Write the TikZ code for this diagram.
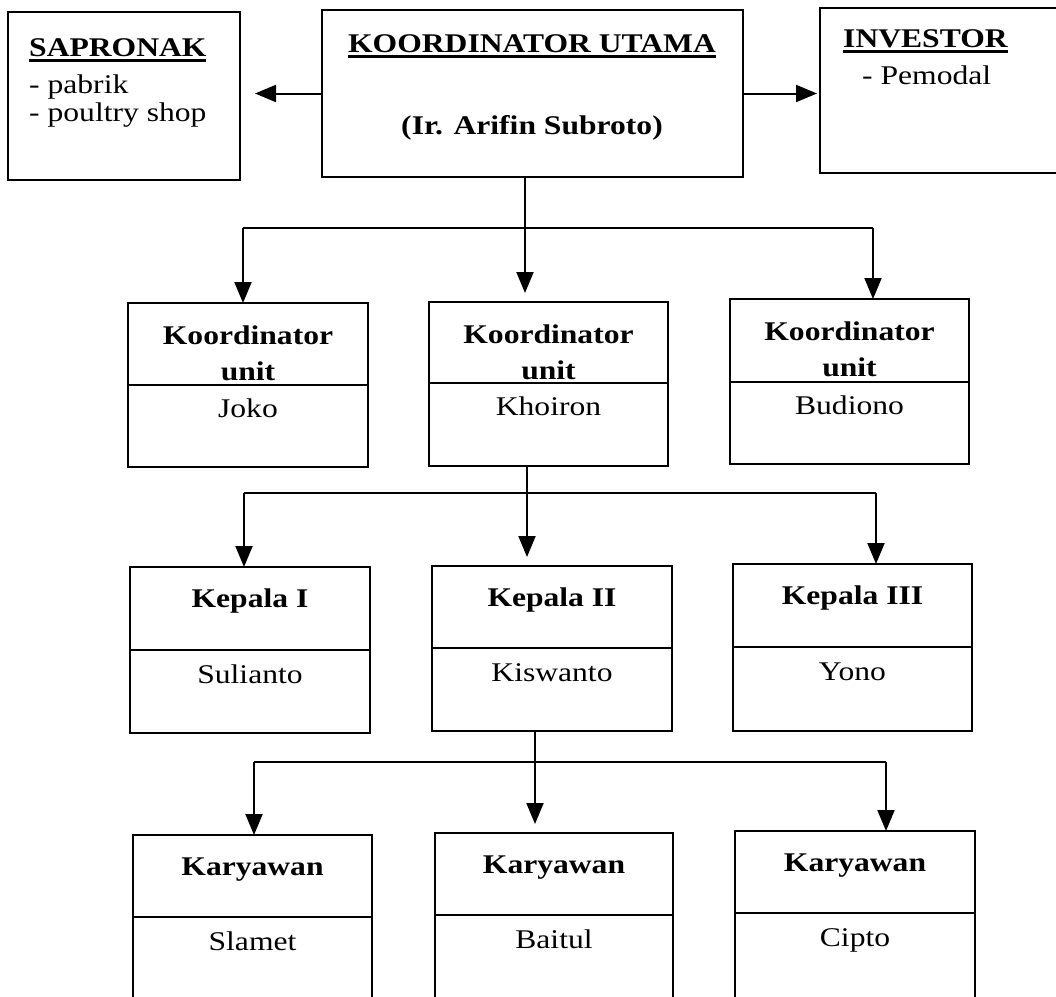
\documentclass[tikz,border=0pt]{standalone}
\usepackage{fontspec}
\setmainfont{Liberation Serif}[FakeStretch=1.17]
\usetikzlibrary{arrows.meta}
\newcommand\myul[1]{\setbox0\hbox{#1}\rlap{\rule[-6pt]{\wd0}{2.6pt}}\box0}
\newcommand\mycard[6]{%
  \node[frame, minimum width=#4pt, minimum height=#5pt] (#1h) at (#2,#3) {};
  \node[frame, minimum width=#4pt, minimum height=#6pt] (#1b) at (#1h.south west) {};
}
\begin{document}
\begin{tikzpicture}[x=1pt,y=-1pt,
  frame/.style={draw, line width=2.2pt, inner sep=0pt, outer sep=0pt, anchor=north west},
  rt/.style={inner sep=0pt, font=\fontsize{27pt}{31pt}\selectfont},
  bt/.style={inner sep=0pt, font=\fontsize{27pt}{31pt}\selectfont\bfseries},
  ln/.style={line width=2pt},
  arr/.style={line width=2pt, -{Triangle[length=21pt,width=17pt]}}]
\useasboundingbox (0,0) rectangle (1056,996);
\fill[white] (0,0) rectangle (1056,996);
\clip (0,0) rectangle (1056,996);

% top row
\node[frame, minimum width=232pt, minimum height=168pt] (sap) at (8,12) {};
\node[bt, anchor=base west] (sapt) at (29,56) {\myul{SAPRONAK}};
\node[rt, anchor=base west] (sap1) at (29,93) {- pabrik};
\node[rt, anchor=base west] (sap2) at (29,121) {- poultry shop};

\node[frame, minimum width=421pt, minimum height=167pt] (ku) at (322,10) {};
\node[bt, anchor=base] (kut) at (532,52) {\myul{KOORDINATOR UTAMA}};
\node[bt, anchor=base] (kun) at (532,134) {(Ir. Arifin Subroto)};

\node[frame, minimum width=260pt, minimum height=165pt] (inv) at (820,8) {};
\node[bt, anchor=base west] (invt) at (843,47) {\myul{INVESTOR}};
\node[rt, anchor=base west] (inv1) at (862,84) {- Pemodal};

% level 2
\mycard{k1}{128}{303}{240}{82}{82}
\mycard{k2}{429}{302}{239}{81}{83}
\mycard{k3}{730}{299}{239}{83}{82}
\node[bt, anchor=base] (k1t) at (248,344) {Koordinator};
\node[bt, anchor=base] (k1u) at (248,380) {unit};
\node[rt, anchor=base] (k1n) at (248,417) {Joko};
\node[bt, anchor=base] (k2t) at (548.5,343) {Koordinator};
\node[bt, anchor=base] (k2u) at (548.5,379) {unit};
\node[rt, anchor=base] (k2n) at (548.5,415) {Khoiron};
\node[bt, anchor=base] (k3t) at (849.5,340) {Koordinator};
\node[bt, anchor=base] (k3u) at (849.5,376) {unit};
\node[rt, anchor=base] (k3n) at (849.5,414) {Budiono};

% level 3
\mycard{p1}{130}{567}{240}{83}{83}
\mycard{p2}{432}{566}{240}{82}{83}
\mycard{p3}{733}{564}{239}{83}{84}
\node[bt, anchor=base] (p1t) at (250,607) {Kepala I};
\node[rt, anchor=base] (p1n) at (250,683) {Sulianto};
\node[bt, anchor=base] (p2t) at (552,606) {Kepala II};
\node[rt, anchor=base] (p2n) at (552,681) {Kiswanto};
\node[bt, anchor=base] (p3t) at (852.5,604) {Kepala III};
\node[rt, anchor=base] (p3n) at (852.5,680) {Yono};

% level 4
\mycard{c1}{133}{835}{239}{82}{120}
\mycard{c2}{435}{833}{238}{82}{120}
\mycard{c3}{735}{831}{240}{82}{120}
\node[bt, anchor=base] (c1t) at (252.5,875) {Karyawan};
\node[rt, anchor=base] (c1n) at (252.5,950) {Slamet};
\node[bt, anchor=base] (c2t) at (554,873) {Karyawan};
\node[rt, anchor=base] (c2n) at (554,948) {Baitul};
\node[bt, anchor=base] (c3t) at (855,871) {Karyawan};
\node[rt, anchor=base] (c3n) at (855,946) {Cipto};

% side arrows
\draw[arr, shorten >=15pt] (ku.west) -- (ku.west -| sap.east);
\draw[arr, shorten >=3pt] (ku.east) -- (ku.east -| inv.west);

% bus 1
\coordinate (b1l) at (243,228);
\coordinate (b1m) at (525,228);
\coordinate (b1r) at (873,228);
\draw[ln] (b1l) -- (b1r);
\draw[arr, shorten >=9pt] (ku.south -| b1m) -- (b1m |- k2h.north);
\draw[arr] (b1l) -- (b1l |- k1h.north);
\draw[arr] (b1r) -- (b1r |- k3h.north);

% bus 2
\coordinate (b2l) at (244,493);
\coordinate (b2m) at (527,493);
\coordinate (b2r) at (876,493);
\draw[ln] (b2l) -- (b2r);
\draw[arr, shorten >=9pt] (k2b.south -| b2m) -- (b2m |- p2h.north);
\draw[arr] (b2l) -- (b2l |- p1h.north);
\draw[arr] (b2r) -- (b2r |- p3h.north);

% bus 3
\coordinate (b3l) at (254,762);
\coordinate (b3m) at (535,762);
\coordinate (b3r) at (886,762);
\draw[ln] (b3l) -- (b3r);
\draw[arr, shorten >=9pt] (p2b.south -| b3m) -- (b3m |- c2h.north);
\draw[arr] (b3l) -- (b3l |- c1h.north);
\draw[arr] (b3r) -- (b3r |- c3h.north);
\end{tikzpicture}
\end{document}
